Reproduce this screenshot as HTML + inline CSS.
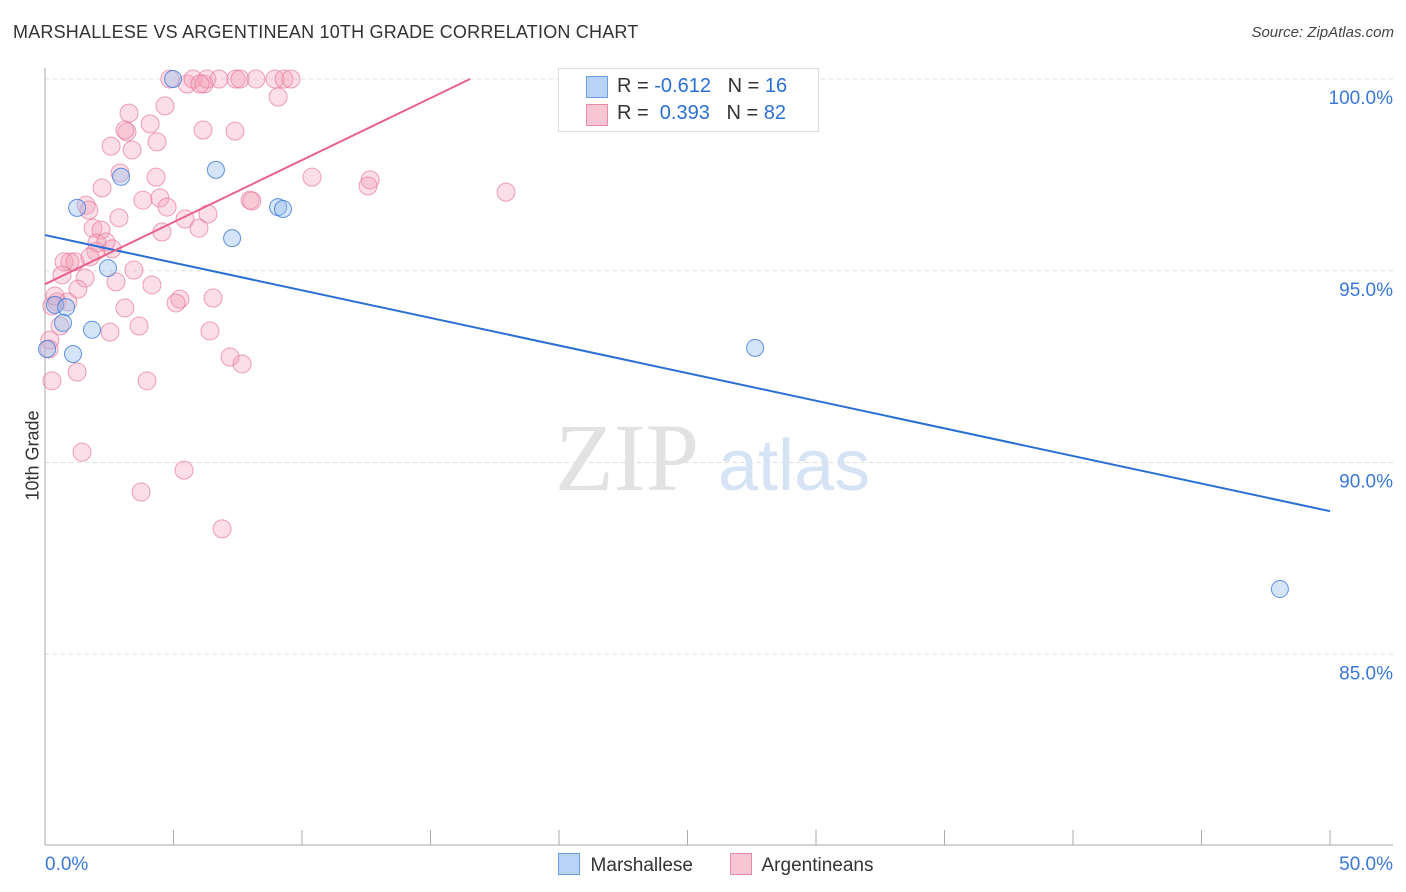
<!DOCTYPE html>
<html><head><meta charset="utf-8">
<style>
body{margin:0;background:#fff;font-family:"Liberation Sans",sans-serif;}
#wrap{position:relative;width:1406px;height:892px;overflow:hidden;}
.t{position:absolute;white-space:nowrap;}
</style></head>
<body>
<div id="wrap">
<div class="t" style="left:13px;top:22px;font-size:18px;color:#333;letter-spacing:0.2px">MARSHALLESE VS ARGENTINEAN 10TH GRADE CORRELATION CHART</div>
<div class="t" style="right:12px;top:24px;font-size:15px;color:#444;font-style:italic">Source: ZipAtlas.com</div>
<div class="t" style="left:-12px;top:445px;font-size:18px;color:#333;transform:rotate(-90deg)">10th Grade</div>
<svg id="plot" width="1406" height="892" style="position:absolute;left:0;top:0"></svg>
<div style="position:absolute;left:558px;top:68px;width:259px;height:62px;border:1px solid #ddd;background:#fff;font-size:20px">
 <div style="position:absolute;left:27px;top:7px;width:20px;height:20px;background:#b8d3f5;border:1px solid #6a9ee0"></div>
 <div class="t" style="left:58px;top:6px;color:#333">R = <span style="color:#2a6fd4">-0.612</span>&nbsp;&nbsp;&nbsp;N = <span style="color:#2a6fd4">16</span></div>
 <div style="position:absolute;left:27px;top:35px;width:20px;height:20px;background:#f8c5d4;border:1px solid #e98aa8"></div>
 <div class="t" style="left:58px;top:33px;color:#333">R = &nbsp;<span style="color:#2a6fd4">0.393</span>&nbsp;&nbsp;&nbsp;N = <span style="color:#2a6fd4">82</span></div>
</div>
<div style="position:absolute;left:558px;top:853px;font-size:19px;color:#333">
 <span style="display:inline-block;width:20px;height:20px;background:#b8d3f5;border:1px solid #6a9ee0;vertical-align:-4px"></span>&nbsp; Marshallese</div>
<div style="position:absolute;left:730px;top:853px;font-size:19px;color:#333">
 <span style="display:inline-block;width:20px;height:20px;background:#f8c5d4;border:1px solid #e98aa8;vertical-align:-4px"></span>&nbsp; Argentineans</div>
</div>
<script>
const yTicks=[100,95,90,85];
const yTickLabels=["100.0%","95.0%","90.0%","85.0%"];
const xTickVals=[0,5,10,15,20,25,30,35,40,45,50];
const blueX=[4.98,6.65,2.96,1.25,9.07,9.26,7.28,2.45,0.39,0.82,0.70,1.83,1.09,0.08,27.63,48.05];
const blueY=[100,97.63,97.45,96.64,96.66,96.61,95.85,95.07,94.11,94.05,93.64,93.46,92.83,92.96,92.99,86.70];
const pinkX=[4.86,5.53,5.76,6.19,6.30,6.77,7.43,7.59,8.21,8.95,9.30,9.57,9.07,4.67,3.27,4.09,3.19,6.15,7.39,4.36,2.57,3.39,2.92,4.32,10.39,12.65,12.57,17.94,2.22,4.47,3.81,7.98,8.05,1.60,4.75,1.71,6.34,2.88,5.45,5.99,1.87,4.55,2.18,2.02,2.37,2.61,1.98,0.97,0.74,1.17,1.75,3.46,0.66,1.56,2.76,4.16,1.28,5.25,5.10,6.54,0.47,0.89,0.27,3.11,0.58,3.66,2.53,6.42,0.19,0.16,7.20,7.67,1.25,0.27,3.97,1.44,5.41,3.74,6.89,0.39,3.11,6.03];
const pinkY=[100,99.87,100,99.87,100,100,100,100,100,100,100,100,99.53,99.30,99.11,98.83,98.62,98.67,98.64,98.36,98.25,98.15,97.55,97.44,97.44,97.37,97.21,97.05,97.16,96.90,96.84,96.84,96.82,96.71,96.66,96.58,96.48,96.38,96.35,96.11,96.11,96.01,96.06,95.72,95.75,95.57,95.51,95.23,95.23,95.23,95.36,95.02,94.89,94.81,94.71,94.63,94.52,94.26,94.16,94.29,94.19,94.19,94.08,94.03,93.56,93.56,93.40,93.43,93.19,92.96,92.75,92.57,92.36,92.13,92.13,90.27,89.80,89.23,88.27,94.34,98.67,99.87];
const blueLine=[[0,95.93],[50,88.73]];
const pinkLine=[[0,94.65],[16.54,100]];
const NS="http://www.w3.org/2000/svg";
const svg=document.getElementById('plot');
const xs=v=>45+v*25.7;
const ys=v=>79+(100-v)*38.35;
function mk(tag,attrs){const e=document.createElementNS(NS,tag);for(const k in attrs)e.setAttribute(k,attrs[k]);svg.appendChild(e);return e;}
yTicks.forEach((t,i)=>{
 const g=mk('line',{x1:45,x2:1393,y1:ys(t),y2:ys(t),stroke:'#ddd','stroke-dasharray':'4,4'});
 
 
 const tx=mk('text',{x:1393,y:ys(t)+25,'text-anchor':'end','font-size':19,fill:'#3a78d8','font-family':'Liberation Sans, sans-serif'});
 tx.textContent=yTickLabels[i];
 
 
});
const ax=mk('line',{x1:45,x2:45,y1:68,y2:845,stroke:'#aaa'});


const bx=mk('line',{x1:45,x2:1393,y1:845,y2:845,stroke:'#aaa'});


xTickVals.forEach(v=>{
 const tk=mk('line',{x1:xs(v),x2:xs(v),y1:830,y2:845,stroke:'#aaa'});
 
 
});
const l0=mk('text',{x:45,y:870,'font-size':19,fill:'#3a78d8','font-family':'Liberation Sans, sans-serif'});l0.textContent='0.0%';


const l1=mk('text',{x:1393,y:870,'text-anchor':'end','font-size':19,fill:'#3a78d8','font-family':'Liberation Sans, sans-serif'});l1.textContent='50.0%';


const wm=mk('text',{x:555,y:490,'font-size':96,fill:'#e2e2e2','font-family':'Liberation Serif, serif'});wm.textContent='ZIP';


const wm2=mk('text',{x:718,y:490,'font-size':72,fill:'#d6e3f5','font-family':'Liberation Sans, sans-serif'});wm2.textContent='atlas';


pinkX.forEach((v,i)=>{
 const c=mk('circle',{cx:xs(v),cy:ys(pinkY[i]),r:9,fill:'rgba(244,160,186,0.35)',stroke:'rgba(232,120,155,0.7)','stroke-width':1});
 
 
});
blueX.forEach((v,i)=>{
 const c=mk('circle',{cx:xs(v),cy:ys(blueY[i]),r:8.5,fill:'rgba(150,190,240,0.4)',stroke:'rgba(60,120,215,0.8)','stroke-width':1});
 
 
});
const bl=mk('line',{x1:xs(blueLine[0][0]),y1:ys(blueLine[0][1]),x2:xs(blueLine[1][0]),y2:ys(blueLine[1][1]),stroke:'#2a6fd4','stroke-width':2});


const pl=mk('line',{x1:xs(pinkLine[0][0]),y1:ys(pinkLine[0][1]),x2:xs(pinkLine[1][0]),y2:ys(pinkLine[1][1]),stroke:'#e8628e','stroke-width':2});


</script>
</body></html>
